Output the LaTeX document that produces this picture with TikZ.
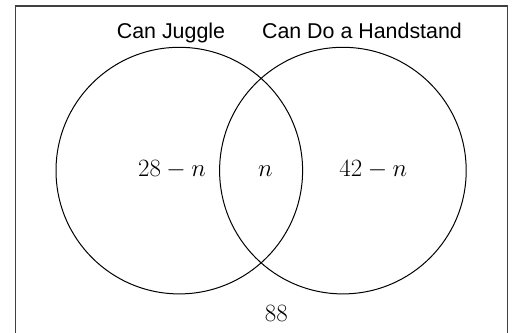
\documentclass[tikz,border=0pt]{standalone}
\usepackage{fontspec}
\setsansfont{Liberation Sans}
\begin{document}
\begin{tikzpicture}[x=1pt,y=-1pt,
  setcircle/.style={draw=black,line width=1pt},
  setlabel/.style={font=\sffamily\fontsize{21.4}{24}\selectfont,anchor=base,inner sep=0pt},
  regionlabel/.style={font=\fontsize{25}{28}\selectfont,anchor=base,inner sep=0pt}]
\useasboundingbox (0,0) rectangle (514,332);
\clip (0,0) rectangle (514,332);
\draw[line width=1.4pt,draw=black!75] (15.5,6) rectangle (507.7,345);
\draw[setcircle] (179.3,170.6) circle (123.3);
\draw[setcircle] (342.9,170.6) circle (123.3);
\node[setlabel] (juggle) at (171,38) {Can Juggle};
\node[setlabel] (hand) at (362,38) {Can Do a Handstand};
\node[regionlabel] (left) at (172,176) {$28-n$};
\node[regionlabel] (mid) at (265.5,176) {$n$};
\node[regionlabel] (right) at (373.3,176) {$42-n$};
\node[regionlabel] (outside) at (276.3,321.5) {$88$};
\end{tikzpicture}
\end{document}
